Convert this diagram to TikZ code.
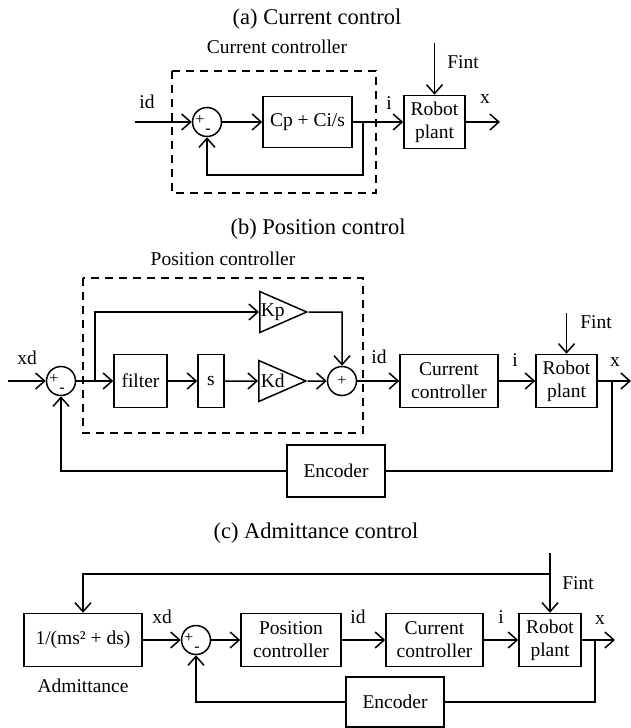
\documentclass[tikz,border=0pt]{standalone}
\usepackage{fontspec}
\setmainfont{Liberation Serif}
\usetikzlibrary{arrows.meta,shapes.geometric}
\newcommand{\lblfont}{\fontsize{19.5}{23}\selectfont}
\newcommand{\ttlfont}{\fontsize{22.5}{26}\selectfont}
\newcommand{\sgfont}{\fontsize{16}{18}\selectfont}
\begin{document}
\begin{tikzpicture}[x=1pt,y=-1pt,
  line width=1.5pt,
  >={Straight Barb[length=9pt,width=16pt]},
  blk/.style={draw, rectangle, inner sep=0pt, align=center, font=\lblfont},
  sumc/.style={draw, circle, minimum size=29pt, inner sep=0pt},
  gain/.style={draw, isosceles triangle, isosceles triangle stretches, shape border rotate=0, minimum width=41pt, minimum height=47pt, inner sep=0pt, font=\lblfont, anchor=west},
  lab/.style={font=\lblfont, inner sep=0pt},
  ttl/.style={font=\ttlfont, inner sep=0pt},
  dbox/.style={line width=1.5pt, dash pattern=on 8pt off 6pt},
  sg/.style={font=\sgfont, inner sep=0pt}
]
\useasboundingbox (0,0) rectangle (631,728);

% ---------------- (a) ----------------
\node[ttl] (ta) at (317,19) {(a) Current control};
\node[lab] (tac) at (277,47) {Current controller};
\draw[dbox] (172,71) rectangle (376,193);
\node[sumc] (sa) at (207,122) {};
\node[sg] (sap) at (200,120) {+};
\node[sg] (sam) at (208,131) {-};
\coordinate (ain) at (135,122);
\draw[->] (ain) -- (sa);
\node[lab] (aid) at (147,102) {id};
\node[blk, minimum width=89pt, minimum height=51pt] (cpci) at (307.5,122) {Cp + Ci/s};
\draw[->] (sa) -- (cpci);
\node[blk, minimum width=61pt, minimum height=53pt] (ra) at (434.5,122) {Robot\\plant};
\draw[->] (cpci) -- (ra);
\coordinate (abr) at (363,122);
\coordinate (afb) at (363,175);
\draw[->] (abr) -- (afb) -| (sa.south);
\node[lab] (ai) at (389,103) {i};
\coordinate (afint) at (434.5,43);
\draw[->] (afint) -- (ra.north);
\node[lab] (afl) at (463,62) {Fint};
\coordinate (aout) at (500,122);
\draw[->] (ra) -- (aout);
\node[lab] (ax) at (485,99) {x};

% ---------------- (b) ----------------
\node[ttl] (tb) at (318,229) {(b) Position control};
\node[lab] (tbc) at (223,259) {Position controller};
\draw[dbox] (83,278) rectangle (363,433);
\node[sumc] (sb1) at (61,381) {};
\node[sg] (sb1p) at (54,379) {+};
\node[sg] (sb1m) at (62,390) {-};
\coordinate (bin) at (8,381);
\draw[->] (bin) -- (sb1);
\node[lab] (bxd) at (27,358) {xd};
\node[blk, minimum width=53pt, minimum height=53pt] (filt) at (140.5,381) {filter};
\draw[->] (sb1) -- (filt);
\node[blk, minimum width=26pt, minimum height=53pt] (sbox) at (211,381) {s};
\draw[->] (filt) -- (sbox);
\node[gain] (kp) at (259,312) {Kp};
\node[gain] (kd) at (258,381) {Kd};
\draw[->] (sbox) -- (kd);
\coordinate (bbr) at (95,381);
\coordinate (bbt) at (95,312);
\draw[->] (bbr) -- (bbt) -- (kp.west);
\node[sumc] (sb2) at (342,381) {};
\node[sg] (sb2p) at (342,381) {+};
\draw[->] (kd.east) -- (sb2);
\coordinate (bkpr) at (342,312);
\draw[->] (kp.east) -- (bkpr) -- (sb2.north);
\node[blk, minimum width=98pt, minimum height=53pt] (curb) at (449,381) {Current\\controller};
\draw[->] (sb2) -- (curb);
\node[lab] (bid) at (379,357) {id};
\node[blk, minimum width=61pt, minimum height=53pt] (rb) at (566.5,381) {Robot\\plant};
\draw[->] (curb) -- (rb);
\node[lab] (bi) at (515,360) {i};
\coordinate (bfint) at (566.5,313);
\draw[->] (bfint) -- (rb.north);
\node[lab] (bfl) at (596,322) {Fint};
\coordinate (bout) at (631,381);
\draw[->] (rb) -- (bout);
\node[lab] (bx) at (615,362) {x};
\node[blk, minimum width=98pt, minimum height=52pt] (encb) at (336,471) {Encoder};
\coordinate (bbr2) at (612,381);
\coordinate (bbr3) at (612,471);
\draw (bbr2) -- (bbr3) -- (encb);
\coordinate (bfl2) at (61,471);
\draw[->] (encb) -- (bfl2) -- (sb1.south);

% ---------------- (c) ----------------
\node[ttl] (tc) at (316,533) {(c) Admittance control};
\node[blk, minimum width=118pt, minimum height=53pt] (adm) at (83,640) {1/(ms² + ds)};
\node[lab] (admlab) at (83,686) {Admittance};
\node[sumc] (sc) at (196,640) {};
\node[sg] (scp) at (189,638) {+};
\node[sg] (scm) at (197,649) {-};
\draw[->] (adm) -- (sc);
\node[lab] (cxd) at (162,617) {xd};
\node[blk, minimum width=100pt, minimum height=53pt] (posc) at (291,640) {Position\\controller};
\draw[->] (sc) -- (posc);
\node[blk, minimum width=97pt, minimum height=53pt] (curc) at (434.5,640) {Current\\controller};
\draw[->] (posc) -- (curc);
\node[lab] (cid) at (358,617) {id};
\node[blk, minimum width=62pt, minimum height=53pt] (rc) at (550,640) {Robot\\plant};
\draw[->] (curc) -- (rc);
\node[lab] (ci) at (501,617) {i};
\coordinate (cfint) at (550,553);
\coordinate (cjn) at (550,574);
\coordinate (ctl) at (83,574);
\draw[->] (cfint) -- (rc.north);
\draw[->] (cjn) -- (ctl) -- (adm.north);
\node[lab] (cfl) at (578,583) {Fint};
\coordinate (cout) at (615,640);
\draw[->] (rc) -- (cout);
\node[lab] (cx) at (600,620) {x};
\node[blk, minimum width=98pt, minimum height=50pt] (encc) at (395,702) {Encoder};
\coordinate (cbr) at (595,640);
\coordinate (cbr2) at (595,702);
\draw (cbr) -- (cbr2) -- (encc);
\coordinate (cfb) at (196,702);
\draw[->] (encc) -- (cfb) -- (sc.south);
\end{tikzpicture}
\end{document}
